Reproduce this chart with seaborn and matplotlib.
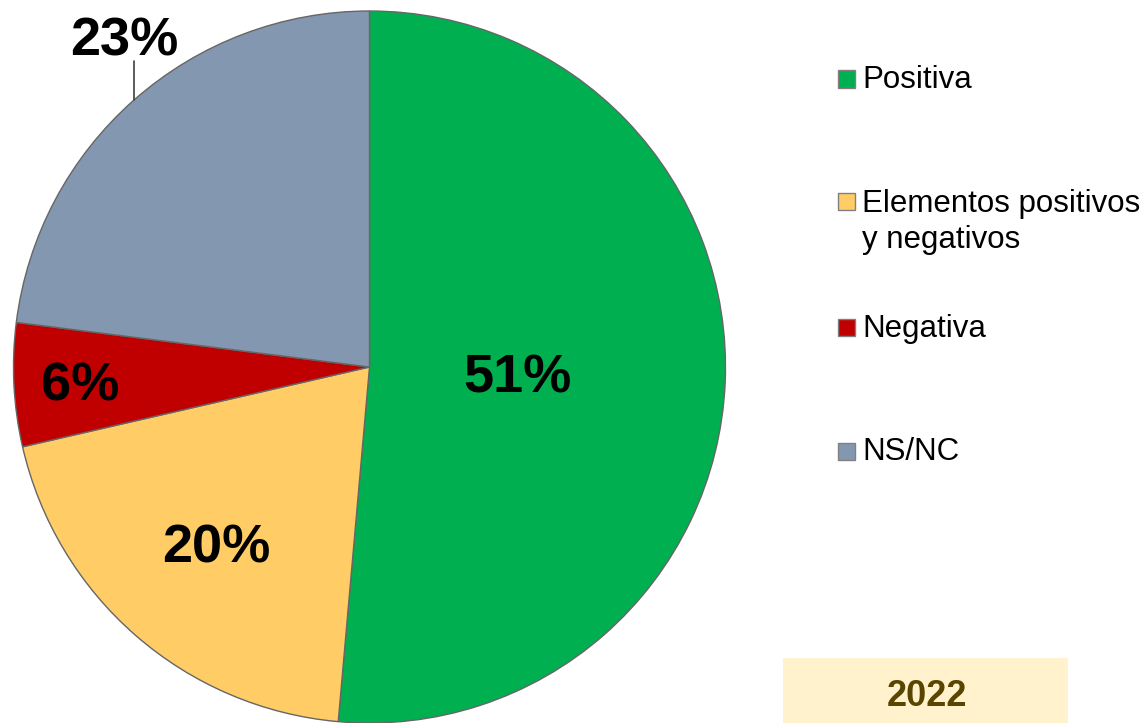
import numpy as np
import matplotlib.pyplot as plt
import seaborn as sns
from matplotlib.patches import Rectangle

# Data (shares, labels rounded)
categories = ['Positiva', 'Elementos positivos\ny negativos', 'Negativa', 'NS/NC']
values = [51.4, 20.0, 5.6, 23.0]
colors = ['#00B050', '#FFCC66', '#C00000', '#8497B0']
year = '2022'

sns.set_theme(style='white')
plt.rcParams['font.family'] = ['Liberation Sans', 'DejaVu Sans']

W, H = 1148, 723
fig = plt.figure(figsize=(W / 100, H / 100), dpi=100)

# pie centre / radius in pixels
cx, cy, r = 369.5, 367, 356
ax = fig.add_axes([(cx - r) / W, (H - cy - r) / H, 2 * r / W, 2 * r / H])
wedges, _ = ax.pie(values, colors=colors, startangle=90, counterclock=False,
                   wedgeprops=dict(edgecolor='#666666', linewidth=1.0))
ax.set_xlim(-1, 1)
ax.set_ylim(-1, 1)
ax.set_aspect('equal')
ax.axis('off')
for w in wedges:
    w.set_clip_on(False)

fs = 39
half_cap = 0.716 * fs * 100 / 72 / 2 / r  # half digit height in data units

# percentage labels (distance from centre, as fraction of radius)
label_dist = [0.417, 0.657, 0.815, None]
for w, v, d in zip(wedges, values, label_dist):
    ang = np.deg2rad((w.theta1 + w.theta2) / 2)
    txt = f'{int(v + 0.5)}%'
    if d is not None:
        ax.text(d * np.cos(ang), d * np.sin(ang) - half_cap, txt, ha='center',
                va='baseline', fontsize=fs, fontweight='bold', color='black')
    else:
        x0, y0 = np.cos(ang), np.sin(ang)
        ax.plot([x0, x0], [y0, y0 + 0.11], color='#404040', lw=1.2, clip_on=False)
        ax.text(x0 - 0.028, y0 + 0.18 - half_cap, txt, ha='center', va='baseline',
                fontsize=fs, fontweight='bold', color='black', clip_on=False)

# legend, placed by hand
marker_y = [79, 201, 327.5, 451]
text_base = [88, 212, 337, 460]
for cat, col, my, ty in zip(categories, colors, marker_y, text_base):
    fig.patches.append(Rectangle((838 / W, 1 - (my + 8.5) / H), 17 / W, 17 / H,
                                 transform=fig.transFigure, facecolor=col,
                                 edgecolor='#808080', linewidth=1))
    for i, line in enumerate(cat.split('\n')):
        fig.text(862 / W, 1 - (ty + i * 36) / H, line, ha='left', va='baseline',
                 fontsize=22.5, color='black')

# year box
fig.patches.append(Rectangle((783 / W, 0), (1068 - 783) / W, (H - 658) / H,
                             transform=fig.transFigure, facecolor='#FFF2CC',
                             edgecolor='none'))
fig.text(926.5 / W, 1 - 706 / H, year, ha='center', va='baseline', fontsize=26,
         fontweight='bold', color='#594400')

fig.savefig('out.png', dpi=100)
